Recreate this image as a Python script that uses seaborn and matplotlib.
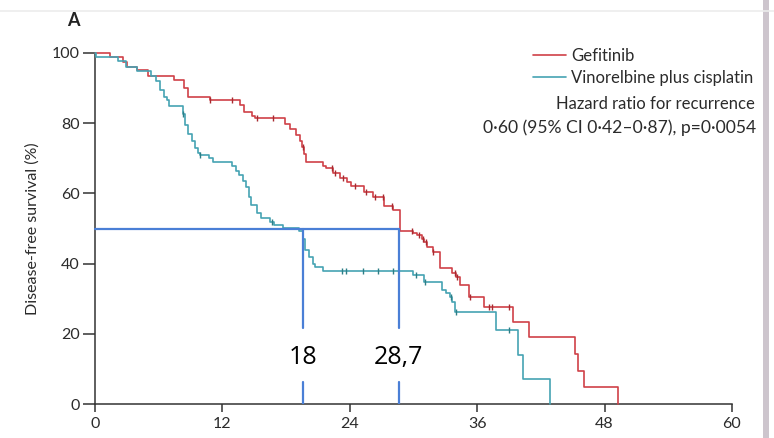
import numpy as np
import pandas as pd
import matplotlib
matplotlib.use("Agg")
import matplotlib.pyplot as plt
from matplotlib.lines import Line2D
from matplotlib.patches import Rectangle
import seaborn as sns

# ---------------- data ----------------
gef_time = [0, 1.4, 2.6, 3.0, 4.0, 5.0, 7.4, 8.4, 8.8, 10.8, 13.7, 14.0, 14.8, 15.1,
            17.9, 18.4, 18.9, 19.3, 19.5, 19.7, 19.9, 21.5, 21.8, 22.4, 23.1, 23.7,
            24.1, 25.3, 26.2, 27.2, 28.1, 28.7, 30.0, 30.3, 30.8, 31.0, 31.3, 31.8,
            32.5, 33.6, 34.0, 34.4, 35.2, 36.6, 39.4, 40.9, 45.2, 45.5, 46.1, 49.3]
gef_surv = [100, 99.0, 97.5, 96.1, 95.2, 93.4, 92.3, 90.0, 87.6, 86.6, 85.2, 83.3, 82.0, 81.4,
            79.8, 78.3, 76.6, 74.8, 73.2, 71.2, 69.0, 67.9, 67.2, 65.8, 64.4, 63.2,
            62.1, 60.4, 59.0, 56.4, 55.3, 49.4, 48.8, 48.1, 47.0, 46.2, 44.8, 43.4,
            38.7, 37.2, 36.3, 33.9, 30.6, 27.7, 23.5, 19.0, 14.2, 9.5, 4.8, 0]
gef_censor = [10.8, 12.9, 15.3, 16.8, 19.6, 22.3, 22.6, 23.4, 24.5, 25.5, 26.4, 27.1,
              28.0, 29.9, 30.5, 30.9, 31.2, 31.8, 33.9, 34.1, 35.3, 37.1, 37.4, 39.0]

vin_time = [0, 0.1, 2.2, 2.9, 4.0, 5.3, 5.7, 6.1, 6.5, 6.8, 7.0, 8.3, 8.5, 8.8, 9.1, 9.4,
            9.7, 9.9, 10.7, 11.1, 12.9, 13.3, 13.6, 13.9, 14.2, 14.5, 14.7, 15.3, 15.6,
            16.5, 16.9, 17.7, 19.2, 19.6, 19.8, 20.2, 20.5, 20.7, 21.5, 30.0, 31.0,
            32.7, 33.1, 33.4, 33.6, 33.9, 37.8, 39.8, 40.3, 42.9]
vin_surv = [100, 98.8, 97.6, 96.1, 95.0, 93.5, 91.9, 89.5, 87.5, 86.6, 84.8, 82.5, 79.5, 77.0,
            74.8, 72.8, 71.5, 70.9, 70.0, 69.0, 67.8, 66.5, 65.2, 63.5, 61.8, 59.0, 56.8,
            54.4, 53.0, 51.8, 51.0, 50.2, 49.4, 47.0, 43.9, 41.9, 40.0, 39.1, 38.0, 36.8,
            34.8, 32.5, 31.6, 30.5, 29.1, 26.3, 21.0, 14.0, 7.0, 0]
vin_censor = [8.3, 9.9, 16.7, 23.3, 23.6, 25.2, 26.7, 28.1, 30.2, 31.1, 33.5, 34.0, 39.0]

groups = ["Gefitinib", "Vinorelbine plus cisplatin"]
median_x = [19.6, 28.6]
median_labels = ["18", "28,7"]
x_ticks = [0, 12, 24, 36, 48, 60]
y_ticks = [0, 20, 40, 60, 80, 100]

# ---------------- style ----------------
sns.set_theme(style="white")
plt.rcParams["font.family"] = ["Lato", "DejaVu Sans"]

RED = "#cf4148"
TEAL = "#45a3b3"
RED_D = "#a82a30"
TEAL_D = "#2d7f87"
REF = "#4a7fd6"
TXT = "#2b2b2b"

W, H = 774, 438
fig = plt.figure(figsize=(W / 100, H / 100), dpi=100)
ax = fig.add_axes([95 / W, 34 / H, (732 - 95) / W, (404 - 53) / H])

df = pd.concat([
    pd.DataFrame({"t": gef_time, "s": gef_surv, "g": groups[0]}),
    pd.DataFrame({"t": vin_time, "s": vin_surv, "g": groups[1]}),
], ignore_index=True)

sns.lineplot(data=df, x="t", y="s", hue="g", palette={groups[0]: RED, groups[1]: TEAL},
             estimator=None, sort=False, drawstyle="steps-post", linewidth=1.2,
             clip_on=False, ax=ax, zorder=3)


def step_at(times, surv, c):
    i = np.searchsorted(np.asarray(times), c, side="right") - 1
    return np.asarray(surv)[i]


for times, surv, cens, col in [(gef_time, gef_surv, gef_censor, RED_D),
                                (vin_time, vin_surv, vin_censor, TEAL_D)]:
    cy = [step_at(times, surv, c) for c in cens]
    sns.scatterplot(x=cens, y=cy, marker="|", s=20, color=col, linewidth=1.0,
                    legend=False, ax=ax, zorder=4)

# median reference lines
ax.plot([0, median_x[1]], [50, 50], color=REF, lw=1.6, zorder=5, clip_on=False)
for mx, lab in zip(median_x, median_labels):
    ax.plot([mx, mx], [50, 21.7], color=REF, lw=1.6, zorder=5)
    ax.plot([mx, mx], [6.3, 0], color=REF, lw=1.6, zorder=5)
    ax.text(mx, 13.2, lab, ha="center", va="center", fontsize=18,
            family=["Open Sans", "DejaVu Sans"], color="black", zorder=6)

# axes styling
ax.set_xlim(0, 60)
ax.set_ylim(0, 100)
ax.set_xticks(x_ticks)
ax.set_yticks(y_ticks)
ax.set_xlabel("")
ax.set_ylabel("Disease-free survival (%)", fontsize=11.5, color=TXT, labelpad=9)
for sp in ["top", "right"]:
    ax.spines[sp].set_visible(False)
for sp in ["left", "bottom"]:
    ax.spines[sp].set_color("#333333")
    ax.spines[sp].set_linewidth(1.1)
ax.tick_params(axis="x", direction="out", length=6, width=1.1, color="#333333",
               labelsize=11.5, labelcolor=TXT, pad=3, bottom=True)
ax.tick_params(axis="y", direction="out", length=9, width=1.1, color="#333333",
               labelsize=11.5, labelcolor=TXT, pad=2, left=True)

# legend
leg = ax.legend(handles=[Line2D([], [], color=RED, lw=1.2), Line2D([], [], color=TEAL, lw=1.2)],
                labels=groups, loc="upper left", bbox_to_anchor=(533 / W, 1 - 48 / H),
                bbox_transform=fig.transFigure, frameon=False, fontsize=12,
                handlelength=2.0, handletextpad=0.3, labelspacing=0.38,
                borderpad=0, borderaxespad=0)
for t in leg.get_texts():
    t.set_color(TXT)

fig.text(755 / W, 1 - 104 / H, "Hazard ratio for recurrence", ha="right", va="center",
         fontsize=12, color=TXT)
fig.text(756 / W, 1 - 128 / H, "0·60 (95% CI 0·42–0·87), p=0·0054", ha="right",
         va="center", fontsize=12.6, color=TXT)

fig.text(73 / W, 1 - 20 / H, "A", ha="center", va="center", fontsize=13,
         fontweight="bold", color="#222222")

# screenshot frame artefacts
fig.add_artist(Line2D([0, 1], [1 - 11 / H, 1 - 11 / H], transform=fig.transFigure,
                      color="#ececec", lw=1.2))
fig.add_artist(Rectangle((763 / W, 0), 6 / W, 1, transform=fig.transFigure,
                         facecolor="#cdc5cd", edgecolor="none"))

fig.savefig("out.png", dpi=100)
